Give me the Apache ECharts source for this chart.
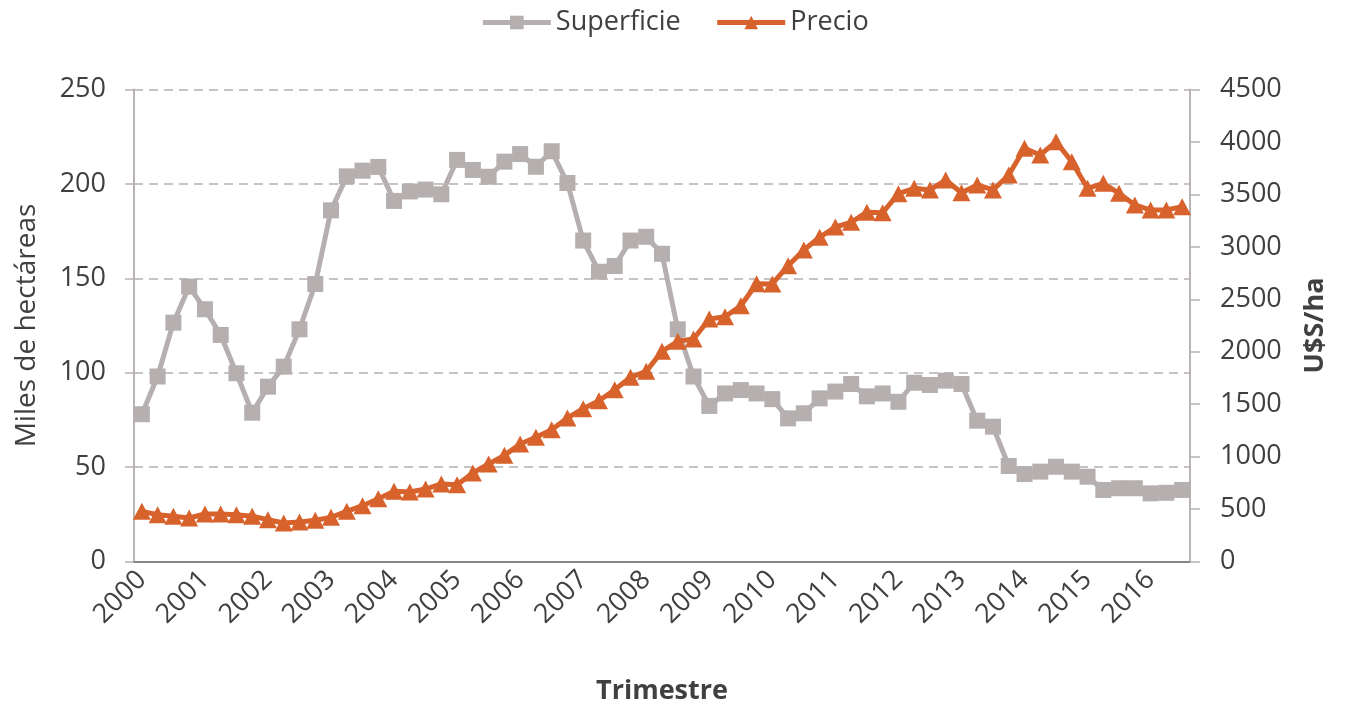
<!DOCTYPE html>
<html>
<head>
<meta charset="utf-8">
<title>Superficie y Precio</title>
<script src="https://cdn.jsdelivr.net/npm/echarts@6/dist/echarts.min.js"></script>
<style>
  html, body { margin: 0; padding: 0; background: #fff; }
  #chart { width: 1349px; height: 707px; }
</style>
</head>
<body>
<div id="chart"></div>
<script>
// años del eje x, 4 trimestres cada uno (el último año llega al 3er trimestre)
const years = ['2000','2001','2002','2003','2004','2005','2006','2007','2008',
  '2009','2010','2011','2012','2013','2014','2015','2016'];
const lastYearQuarters = 3;

// miles de hectáreas
const superficie = [
  78, 98, 126.5, 145.6, 133.6, 120, 99.7, 78.8, 92.6, 103.2, 123, 147,
  186, 204, 207, 209, 191, 196, 197, 194.5, 212.7, 207.4, 203.8, 211.8,
  215.8, 209.1, 217.3, 200.5, 170, 153.5, 156.5, 170, 172, 163, 123, 98,
  82.4, 89, 90.8, 89, 86, 75.8, 78.5, 86.4, 90, 94, 87.5, 89,
  84.6, 94.7, 93.5, 95.8, 94, 74.6, 71.4, 50.6, 46.3, 47.6, 50.2, 47.6,
  44.9, 37.9, 38.8, 38.8, 36.1, 36.4, 37.9
];

// U$S/ha
const precio = [
  478, 446, 431, 415, 453, 453, 446, 431, 399, 367, 377, 393,
  421, 478, 532, 599, 669, 663, 691, 739, 732, 844, 930, 1012,
  1120, 1184, 1257, 1368, 1457, 1533, 1638, 1756, 1813, 2004, 2100, 2121,
  2312, 2334, 2439, 2648, 2646, 2820, 2970, 3091, 3189, 3234, 3330, 3325,
  3507, 3558, 3542, 3637, 3516, 3590, 3542, 3685, 3939, 3876, 4002, 3812,
  3558, 3606, 3510, 3399, 3351, 3351, 3383
];

const trimestres = [];
years.forEach(function (y, i) {
  const n = i === years.length - 1 ? lastYearQuarters : 4;
  for (let q = 1; q <= n; q++) trimestres.push(y + '-T' + q);
});

const txt = '#404040';
const font = "'Open Sans', 'Noto Sans', sans-serif";

const chart = echarts.init(document.getElementById('chart'));
chart.setOption({
  animation: false,
  backgroundColor: '#fff',
  textStyle: { fontFamily: font, color: txt },
  legend: {
    top: 4,
    left: 'center',
    itemWidth: 68,
    itemHeight: 17,
    itemGap: 34,
    lineStyle: { width: 5 },
    textStyle: { fontSize: 27, color: txt, fontFamily: font },
    data: ['Superficie', 'Precio']
  },
  grid: { left: 134, right: 159, top: 89.5, bottom: 145.5, outerBoundsMode: 'none', containLabel: false },
  xAxis: [
    {
      type: 'category',
      boundaryGap: true,
      data: trimestres,
      name: 'Trimestre',
      nameLocation: 'middle',
      nameGap: 116,
      nameTextStyle: { fontSize: 27, fontWeight: 'bold', color: txt },
      axisLine: { lineStyle: { color: '#b9b3b3', width: 2 } },
      axisTick: { show: false },
      axisLabel: {
        interval: 3,
        rotate: 45,
        margin: 14,
        fontSize: 27,
        color: txt,
        formatter: function (v) { return v.split('-')[0]; }
      }
    },
    {
      type: 'category',
      position: 'top',
      boundaryGap: true,
      data: trimestres,
      axisLine: { lineStyle: { color: '#8a8585', width: 2 } },
      axisTick: { show: false },
      axisLabel: { show: false }
    }
  ],
  yAxis: [
    {
      type: 'value',
      min: 0,
      max: 250,
      interval: 50,
      name: 'Miles de hectáreas',
      nameLocation: 'middle',
      nameRotate: 90,
      nameGap: 93,
      nameTextStyle: { fontSize: 28, color: txt },
      axisLine: { show: true, lineStyle: { color: '#b9b3b3', width: 2 } },
      axisTick: { show: true, length: 9, lineStyle: { color: '#b9b3b3', width: 1.5 } },
      axisLabel: { margin: 28, fontSize: 27, color: txt },
      splitLine: { lineStyle: { color: '#b5b0b0', type: [9, 6], width: 1.5 } }
    },
    {
      type: 'value',
      min: 0,
      max: 4500,
      interval: 500,
      position: 'right',
      name: 'U$S/ha',
      nameLocation: 'middle',
      nameRotate: 90,
      nameGap: 112,
      nameTextStyle: { fontSize: 27, fontWeight: 'bold', color: txt },
      axisLine: { show: true, lineStyle: { color: '#b9b3b3', width: 2 } },
      axisTick: { show: true, length: 10, lineStyle: { color: '#b9b3b3', width: 1.5 } },
      axisLabel: {
        margin: 30, fontSize: 27, color: txt,
        formatter: function (v) { return String(v); }
      },
      splitLine: { show: false }
    }
  ],
  series: [
    {
      name: 'Superficie',
      type: 'line',
      yAxisIndex: 0,
      data: superficie,
      symbol: 'rect',
      symbolSize: 16,
      showAllSymbol: true,
      color: '#b5afaf',
      lineStyle: { width: 5, color: '#b5afaf' },
      itemStyle: { color: '#b5afaf' }
    },
    {
      name: 'Precio',
      type: 'line',
      yAxisIndex: 1,
      data: precio,
      symbol: 'triangle',
      symbolSize: [18, 17],
      showAllSymbol: true,
      color: '#d8622c',
      lineStyle: { width: 5, color: '#d8622c' },
      itemStyle: { color: '#d8622c' }
    }
  ]
});
</script>
</body>
</html>
